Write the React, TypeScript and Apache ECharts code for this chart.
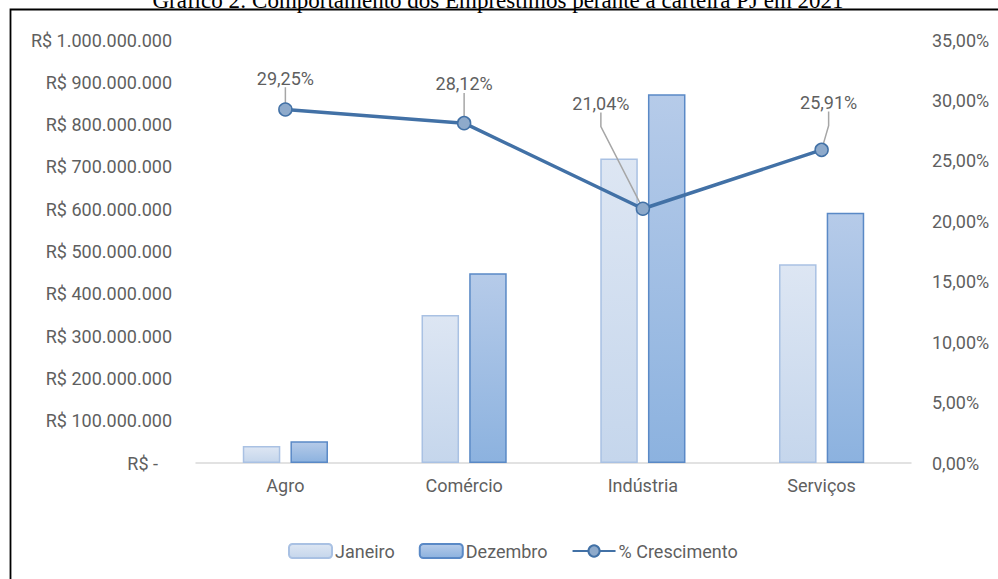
import React, { useEffect, useRef } from "react";
import * as echarts from "echarts";

const categories = ["Agro", "Comércio", "Indústria", "Serviços"];
const janeiro = [40000000, 350000000, 720000000, 470000000];
const dezembro = [51700000, 448400000, 871500000, 591800000];
const crescimento = [0.2925, 0.2812, 0.2104, 0.2591];
const seriesNames = ["Janeiro", "Dezembro", "% Crescimento"];
const titleText = "Gráfico 2: Comportamento dos Empréstimos perante a carteira PJ em 2021";

// label offsets for the growth labels (dx, dy from default "top" position)
const labelShifts = [
  [0, -10],
  [0, -18],
  [-42, -84],
  [7, -26],
];

const FONT = "Roboto, 'Open Sans', sans-serif";
const GRAY = "#5f5f5f";

function formatReais(v: number): string {
  if (v === 0) return "{z|R$ -}";
  const s = Math.round(v).toString().replace(/\B(?=(\d{3})+(?!\d))/g, ".");
  return "R$ " + s;
}

function formatPct(v: number): string {
  return (v * 100).toFixed(2).replace(".", ",") + "%";
}

export default function App() {
  const ref = useRef<HTMLDivElement>(null);

  useEffect(() => {
    if (!ref.current) return;
    const chart = echarts.init(ref.current, null, { renderer: "svg" });
    chart.setOption({
      animation: false,
      backgroundColor: "#ffffff",
      textStyle: { fontFamily: FONT },
      graphic: [
        {
          type: "text",
          x: 498,
          y: 0,
          style: {
            text: titleText,
            font: "23px 'Liberation Serif', 'Times New Roman', serif",
            fill: "#000000",
            textAlign: "center",
            textVerticalAlign: "middle",
          },
        },
        {
          type: "rect",
          shape: { x: 10.5, y: 9.5, width: 1100, height: 700 },
          style: { fill: "none", stroke: "#000000", lineWidth: 1.8 },
        },
      ],
      grid: { left: 196, right: 87, top: 40, bottom: 116, containLabel: false },
      legend: {
        left: 283,
        top: 537,
        itemWidth: 43,
        itemHeight: 14,
        itemGap: 24,
        textStyle: { color: GRAY, fontSize: 18, fontFamily: FONT, padding: [0, 0, 0, -2] },
        data: seriesNames,
      },
      xAxis: {
        type: "category",
        data: categories,
        axisLine: { lineStyle: { color: "#d9d9d9", width: 1.5 } },
        axisTick: { show: false },
        axisLabel: { color: GRAY, fontSize: 18, fontFamily: FONT, margin: 13 },
      },
      yAxis: [
        {
          type: "value",
          min: 0,
          max: 1000000000,
          interval: 100000000,
          splitLine: { show: false },
          axisLine: { show: false },
          axisTick: { show: false },
          axisLabel: {
            color: GRAY,
            fontSize: 18,
            fontFamily: FONT,
            margin: 24,
            formatter: formatReais,
            rich: {
              z: { color: GRAY, fontSize: 18, fontFamily: FONT, padding: [0, 14, 0, 0] },
            },
          },
        },
        {
          type: "value",
          min: 0,
          max: 0.35,
          interval: 0.05,
          splitLine: { show: false },
          axisLine: { show: false },
          axisTick: { show: false },
          axisLabel: {
            color: GRAY,
            fontSize: 18,
            fontFamily: FONT,
            margin: 21,
            formatter: formatPct,
          },
        },
      ],
      series: [
        {
          name: seriesNames[0],
          type: "bar",
          data: janeiro,
          barWidth: "21%",
          barGap: "27%",
          itemStyle: {
            color: new echarts.graphic.LinearGradient(0, 0, 0, 1, [
              { offset: 0, color: "#dde6f3" },
              { offset: 1, color: "#c5d6ec" },
            ]),
            borderColor: "#a9c1e3",
            borderWidth: 1.5,
          },
        },
        {
          name: seriesNames[1],
          type: "bar",
          data: dezembro,
          barWidth: "21%",
          barGap: "27%",
          itemStyle: {
            color: new echarts.graphic.LinearGradient(0, 0, 0, 1, [
              { offset: 0, color: "#b6cbe9" },
              { offset: 1, color: "#8cb2df" },
            ]),
            borderColor: "#5a89c6",
            borderWidth: 1.5,
          },
        },
        {
          name: seriesNames[2],
          type: "line",
          yAxisIndex: 1,
          data: crescimento,
          symbol: "circle",
          symbolSize: 13,
          lineStyle: { color: "#4271a6", width: 3.5 },
          itemStyle: { color: "#8eaacb", borderColor: "#4271a6", borderWidth: 1.5 },
          label: {
            show: true,
            position: "top",
            color: GRAY,
            fontSize: 18,
            fontFamily: FONT,
            formatter: (p: any) => formatPct(p.value),
          },
          labelLine: {
            show: true,
            length2: 14,
            lineStyle: { color: "#a6a6a6", width: 1.5 },
          },
          labelLayout: (p: any) => {
            const s = labelShifts[p.dataIndex] || [0, 0];
            return { dx: s[0], dy: s[1] };
          },
          z: 5,
        },
      ],
    });
    return () => chart.dispose();
  }, []);

  return (
    <div
      ref={ref}
      style={{ position: "fixed", left: 0, top: 0, width: 998, height: 579 }}
    />
  );
}
